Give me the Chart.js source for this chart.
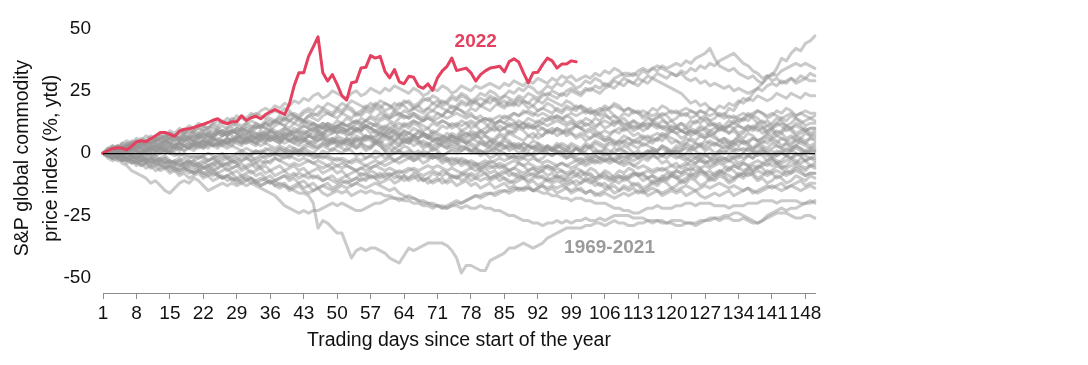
<!DOCTYPE html>
<html>
<head>
<meta charset="utf-8">
<script src="https://cdn.jsdelivr.net/npm/chart.js@4.4.0/dist/chart.umd.min.js"></script>
<style>
  html, body { margin: 0; padding: 0; background: #fff; }
</style>
</head>
<body>
<canvas id="chart" width="1088" height="365"></canvas>
<script>
// x categories: trading day 1..150, labelled every 7 days
const days = Array.from({ length: 150 }, (_, i) => i + 1);
const xTickDays = [1, 8, 15, 22, 29, 36, 43, 50, 57, 64, 71, 78, 85, 92, 99, 106, 113, 120, 127, 134, 141, 148];
const yTicks = [-50, -25, 0, 25, 50];

// 2022 path (% ytd)
const red2022 = [0,1.0,1.8,2.2,2.0,1.4,2.8,4.5,5.0,4.6, 5.8,7.0,8.3,8.3,7.5,6.8,8.8,9.6,9.8,10.3, 11.0,11.6,12.3,13.2,13.8,12.5,11.8,12.6,12.6,15.0, 13.1,14.2,14.8,13.8,15.5,16.6,17.5,16.5,15.5,19.7, 27.0,32.2,32.2,38.7,42.6,46.6,32.2,28.9,31.5,27.6, 23.0,21.3,28.2,28.6,34.1,34.4,39.1,38.1,38.8,32.8, 30.2,33.5,28.6,27.8,30.8,30.4,26.9,26.0,27.8,25.2, 30.2,33.0,34.8,38.1,33.1,33.6,34.1,32.2,28.9,31.5, 33.0,34.1,34.4,34.8,32.6,36.7,37.8,36.5,32.2,28.2, 32.2,32.4,35.5,38.1,37.0,34.1,35.7,35.7,37.0,36.6];

// earlier years (1969-2021), estimated paths
const h01 = [0,1,0,2,1,3,2,4,3,5, 4,6,5,7,6,5,7,8,7,9, 8,10,9,8,10,11,10,12,11,10, 12,13,12,11,13,14,13,15,14,16, 15,14,16,17,15,16,18,17,16,18, 17,19,18,16,17,19,18,20,19,17, 18,20,19,21,20,18,19,21,22,20, 21,19,20,22,21,23,22,20,21,19, 20,22,21,19,18,20,19,21,20,18, 19,17,18,20,19,17,16,18,17,19, 18,16,17,15,16,18,17,15,14,16, 15,17,16,14,15,13,14,16,15,13, 14,16,15,17,16,14,15,13,14,16, 15,18,17,20,22,21,24,26,28,31, 31,34,38,37,40,42,41,44,45,47];
const h02 = [0,-1,1,0,2,1,3,2,1,3, 2,4,3,5,4,3,5,6,5,7, 6,8,7,6,8,9,8,10,9,8, 10,9,11,10,12,11,13,12,11,13, 12,14,13,15,14,13,15,16,15,17, 16,18,17,15,16,18,17,19,18,20, 19,17,18,20,21,19,20,22,21,23, 22,20,21,23,22,24,23,21,22,24, 23,25,24,22,23,25,24,26,25,27, 26,24,25,27,26,28,27,29,28,26, 27,29,28,30,29,27,28,30,31,32, 32,31,33,34,33,34,33,35,34,35, 36,35,37,36,38,39,40,42,38,35, 34,33,34,32,31,30,31,29,28,30, 32,31,33,34,35,36,35,36,35,34];
const h03 = [0,1,2,1,3,2,4,3,5,4, 6,5,7,6,8,7,9,8,10,9, 10,11,10,12,11,13,12,14,13,15, 14,16,15,17,18,17,19,18,20,19, 21,20,22,21,23,24,22,23,25,24, 23,22,24,25,23,24,26,25,24,26, 25,27,26,25,24,26,25,23,24,26, 25,27,26,24,25,27,26,25,27,26, 27,28,27,26,28,27,29,28,27,29, 28,30,29,28,30,29,31,30,31,29, 30,31,30,32,31,33,32,34,33,31, 31,32,31,33,32,34,35,34,33,32, 31,32,30,29,30,28,29,27,28,27, 26,27,25,26,25,24,25,26,25,27, 28,27,29,28,30,29,31,30,32,31];
const h04 = [0,1,0,-1,1,0,2,1,0,2, 1,3,2,1,3,2,4,3,2,4, 3,5,4,6,5,4,6,5,7,6, 5,7,6,8,7,9,8,7,9,8, 10,9,11,10,12,11,10,12,11,13, 12,14,13,12,14,13,15,14,16,15, 14,16,15,17,16,18,17,16,18,17, 19,18,17,19,18,20,19,21,20,19, 21,20,22,21,23,22,21,23,22,24, 23,22,24,23,25,24,23,25,26,25, 24,26,25,27,26,28,27,29,28,30, 29,28,30,29,31,30,32,31,30,32, 31,33,32,34,33,35,34,36,35,37, 38,39,40,38,36,35,33,32,30,31, 29,30,28,29,30,28,29,30,29,29];
const h05 = [0,-1,0,1,0,2,1,3,2,1, 3,2,4,3,5,4,3,5,6,5, 7,6,5,7,8,7,9,8,10,9, 8,10,11,10,12,11,13,14,13,15, 16,15,17,18,17,19,18,20,19,18, 20,19,21,20,19,18,20,19,21,20, 19,18,20,19,17,18,19,17,18,20, 19,21,20,18,19,21,20,19,21,22, 21,23,22,20,21,19,20,22,21,20, 22,21,23,24,23,22,24,23,25,24, 23,25,26,25,24,26,27,26,28,27, 29,28,27,29,28,30,29,28,27,26, 25,24,22,20,21,19,20,18,17,19, 18,20,19,21,20,22,21,23,22,21, 22,24,23,22,24,23,22,24,23,23];
const h06 = [0,1,2,1,0,1,2,3,2,4, 3,2,4,5,4,6,5,7,6,5, 7,8,7,6,8,7,9,8,10,9, 11,10,12,11,10,12,13,12,14,13, 15,14,13,15,16,15,17,16,15,14, 16,15,14,16,15,17,16,18,17,16, 15,17,16,14,15,16,14,13,15,14, 16,15,17,16,18,17,16,18,17,19, 18,17,19,20,19,21,20,19,21,20, 19,21,20,22,21,20,19,21,20,18, 19,17,18,16,17,19,18,20,19,17, 18,16,17,15,16,18,17,19,18,16, 17,15,16,14,15,17,16,18,17,15, 16,14,15,13,14,16,15,17,16,14, 15,17,16,18,17,15,16,17,16,16];
const h07 = [0,2,1,3,2,4,3,2,4,5, 4,6,5,4,6,7,6,5,7,6, 8,7,6,8,9,8,7,9,8,10, 9,8,10,11,10,9,11,12,11,10, 12,11,13,12,11,10,12,11,9,10, 11,9,10,12,11,13,12,11,13,14, 13,12,14,15,14,16,15,14,16,17, 16,15,17,16,18,17,15,16,14,15, 13,14,12,13,15,14,16,15,17,16, 15,17,18,17,16,18,17,19,18,17, 19,18,16,17,15,16,14,15,13,14, 12,13,11,12,14,13,15,14,12,13, 11,12,10,11,13,12,14,13,11,12, 10,11,13,12,14,13,15,14,12,13, 11,12,14,13,15,14,12,13,14,13];
const h08 = [0,1,3,2,4,3,5,4,6,5, 7,6,8,7,9,8,10,9,11,10, 12,11,10,12,13,12,14,13,15,14, 13,15,16,15,14,16,17,16,18,17, 15,14,13,11,12,10,11,9,10,8, 9,7,8,10,9,11,10,8,9,7, 8,10,9,11,10,12,11,9,10,8, 9,11,10,12,11,13,12,10,11,9, 10,12,11,13,12,14,13,11,12,10, 11,13,12,14,13,15,14,12,13,11, 12,14,13,11,12,10,11,13,12,10, 11,9,10,12,11,13,12,10,11,9, 10,12,11,13,12,14,13,11,12,10, 11,13,12,14,13,15,14,12,13,11, 12,14,13,11,12,14,13,11,12,12];
const h09 = [0,-1,1,0,-1,1,2,1,0,2, 1,3,2,1,3,2,4,3,2,4, 3,2,4,5,4,3,5,4,6,5, 4,6,5,7,6,5,7,6,8,7, 6,8,9,8,7,9,8,10,9,8, 10,9,11,10,9,11,10,12,11,10, 12,11,10,12,11,13,12,11,10,12, 11,13,12,10,11,9,10,12,11,13, 12,10,11,9,10,8,9,11,10,12, 11,9,10,8,9,7,8,10,9,11, 10,8,9,7,8,6,7,9,8,10, 9,7,8,6,7,5,6,8,7,9, 8,6,7,9,8,10,9,7,8,10, 9,11,10,8,9,11,10,12,11,9, 10,12,11,9,10,12,11,9,10,10];
const h10 = [0,1,0,2,1,0,2,3,2,1, 3,2,1,3,4,3,2,4,3,5, 4,3,5,6,5,4,6,5,7,6, 5,7,6,5,7,8,7,6,8,7, 9,8,7,9,10,9,8,10,9,11, 10,9,8,10,9,11,10,9,8,10, 9,8,7,9,8,10,9,8,7,9, 8,7,6,8,7,9,8,7,6,8, 7,6,5,7,6,8,7,6,5,7, 6,8,7,9,8,10,9,8,10,11, 10,12,11,10,12,13,12,11,13,12, 11,13,12,11,10,12,11,10,9,11, 10,9,8,10,9,8,7,9,8,10, 9,8,10,11,10,9,11,10,8,9, 10,8,9,11,10,8,9,10,8,9];
const h11 = [0,-1,-2,-1,0,-1,1,0,-1,1, 2,1,0,2,1,3,2,1,3,2, 4,3,2,4,3,5,4,3,5,4, 6,5,4,6,5,7,6,5,7,8, 7,6,8,7,9,8,7,9,8,10, 9,8,7,9,8,6,7,5,6,8, 7,5,6,4,5,7,6,8,7,5, 6,4,5,7,6,8,7,9,8,6, 7,5,6,8,7,9,8,10,9,7, 8,6,7,9,8,10,9,7,8,6, 7,5,6,8,7,5,6,4,5,7, 6,4,5,3,4,6,5,7,6,4, 5,3,4,6,5,7,6,8,7,5, 6,4,5,7,6,8,7,5,6,8, 7,9,8,6,7,5,6,8,7,7];
const h12 = [0,1,2,1,2,3,2,1,3,2, 4,3,2,4,3,2,4,5,4,3, 5,4,3,5,6,5,4,6,5,4, 6,5,4,6,7,6,5,4,6,5, 4,3,5,4,3,5,6,5,4,6, 5,4,3,5,4,6,5,4,6,7, 6,5,7,6,5,7,8,7,6,8, 7,6,5,7,6,5,4,6,5,4, 3,5,4,3,5,4,3,2,4,3, 2,4,3,2,1,3,2,1,3,2, 1,3,2,4,3,2,4,3,5,4, 3,5,4,6,5,4,6,5,7,6, 5,4,6,5,4,3,5,4,3,5, 4,3,5,6,5,4,6,5,4,6, 5,4,6,5,4,6,5,4,6,5];
const h13 = [0,1,0,-1,0,1,0,2,1,0, 2,1,3,2,1,3,4,3,2,4, 3,4,5,4,3,5,4,6,5,4, 6,5,7,6,5,7,6,8,7,6, 5,7,6,5,4,6,5,4,6,5, 4,6,5,7,6,5,7,6,8,7, 6,8,7,9,8,7,6,8,7,6, 5,7,6,5,4,6,5,4,3,5, 4,3,5,4,3,2,4,3,2,1, 3,2,1,3,2,4,3,2,4,3, 2,4,3,5,4,3,5,4,3,5, 4,3,2,4,3,2,1,3,2,1, 3,2,4,3,2,4,3,5,4,3, 5,4,3,5,4,3,2,4,3,2, 4,3,2,4,3,5,4,3,2,3];
const h14 = [0,1,2,3,2,4,3,5,4,3, 5,4,6,5,7,6,5,7,6,8, 7,6,8,7,9,8,7,9,8,10, 9,8,7,9,8,6,7,5,6,8, 7,5,6,4,5,7,6,4,5,3, 4,6,5,3,4,2,3,5,4,2, 3,5,4,6,5,3,4,2,3,1, 2,4,3,5,4,2,3,1,2,0, 1,3,2,4,3,1,2,0,1,-1, 0,2,1,3,2,0,1,-1,0,2, 1,3,2,0,1,-1,0,2,1,3, 2,0,1,-1,0,2,1,3,2,0, 1,-1,0,2,1,-1,0,-2,-1,1, 0,2,1,-1,0,2,1,3,2,0, 1,-1,0,2,1,3,2,0,1,1];
const h15 = [0,-1,0,-2,-1,0,-1,1,0,-1, 1,0,2,1,0,2,1,3,2,1, 3,2,4,3,2,4,3,5,4,3, 5,4,3,5,4,6,5,4,6,5, 4,6,5,7,6,5,7,6,5,7, 6,5,4,6,5,7,6,5,4,6, 5,4,3,5,4,6,5,4,3,5, 4,3,2,4,3,5,4,3,2,4, 3,2,1,3,2,4,3,2,1,3, 2,1,0,2,1,3,2,1,0,2, 1,0,-1,1,0,2,1,0,-1,1, 0,-1,-2,0,-1,1,0,-1,-2,0, -1,-2,-3,-1,-2,0,-1,-2,-3,-1, -2,-3,-1,-2,0,-1,-2,0,1,0, -1,1,0,-1,1,0,-1,1,0,0];
const h16 = [0,-1,-2,-1,-3,-2,-1,-3,-2,-4, -3,-2,-4,-3,-5,-4,-3,-5,-4,-3, -5,-4,-3,-2,-4,-3,-2,-4,-3,-1, -2,-1,-3,-2,-1,0,-1,1,0,-1, 1,0,2,1,0,2,3,2,1,3, 2,1,3,2,4,3,2,4,3,1, 2,0,1,3,2,0,1,-1,0,2, 1,-1,0,2,1,3,2,0,1,-1, 0,-2,-1,1,0,-2,-1,-3,-2,0, -1,-3,-2,0,-1,1,0,-2,-1,-3, -2,-4,-3,-1,-2,0,-1,-3,-2,-4, -3,-5,-4,-2,-3,-1,-2,-4,-3,-5, -4,-6,-5,-3,-4,-2,-3,-5,-4,-2, -3,-1,-2,-4,-3,-1,-2,0,-1,-3, -2,-4,-3,-1,-2,0,-1,-3,-2,-2];
const h17 = [0,1,0,-1,0,-2,-1,-2,-3,-2, -1,-3,-2,-1,-3,-4,-3,-2,-4,-3, -2,-1,-3,-2,-1,0,-2,-1,0,1, 0,-1,1,0,2,1,0,2,1,3, 2,1,3,4,3,2,4,3,5,4, 3,5,4,2,3,1,2,4,3,1, 0,2,1,-1,0,-2,-1,1,0,-2, -1,-3,-2,-4,-3,-5,-4,-6,-5,-7, -6,-8,-7,-9,-8,-7,-9,-8,-10,-9, -8,-10,-9,-11,-10,-9,-11,-10,-8,-9, -7,-8,-6,-7,-9,-8,-10,-9,-7,-8, -6,-7,-9,-8,-10,-9,-11,-10,-8,-9, -7,-8,-6,-7,-5,-6,-8,-7,-9,-8, -6,-7,-5,-6,-4,-5,-7,-6,-4,-5, -3,-4,-6,-5,-3,-4,-2,-3,-5,-4];
const h18 = [0,-1,-2,-3,-2,-4,-3,-5,-4,-6, -5,-7,-6,-5,-7,-6,-8,-7,-6,-8, -7,-6,-5,-7,-6,-4,-5,-3,-4,-6, -5,-4,-6,-5,-3,-4,-2,-3,-1,-2, 0,-1,1,0,-2,-1,1,0,2,1, 0,2,1,-1,0,-2,-1,1,0,-2, -1,-3,-2,0,-1,-3,-2,-4,-3,-1, -2,-4,-3,-5,-4,-2,-3,-5,-4,-6, -5,-3,-4,-6,-5,-7,-6,-4,-5,-7, -6,-8,-7,-5,-6,-8,-7,-9,-8,-6, -7,-9,-8,-10,-9,-7,-8,-10,-9,-11, -10,-8,-9,-11,-10,-12,-11,-9,-10,-8, -9,-11,-10,-8,-9,-7,-8,-10,-9,-7, -8,-6,-7,-9,-8,-6,-7,-5,-6,-8, -7,-5,-6,-8,-7,-5,-6,-7,-5,-6];
const h19 = [0,-1,0,-2,-1,-3,-2,-1,-3,-2, -4,-3,-2,-4,-3,-5,-4,-6,-5,-4, -6,-5,-7,-6,-8,-7,-6,-8,-7,-9, -8,-7,-9,-8,-10,-9,-11,-10,-9,-11, -10,-12,-11,-13,-12,-14,-13,-12,-14,-13, -12,-11,-13,-12,-10,-11,-9,-10,-12,-11, -10,-12,-11,-9,-10,-8,-9,-11,-10,-8, -9,-7,-8,-10,-9,-11,-10,-8,-9,-7, -8,-10,-9,-11,-10,-12,-11,-9,-10,-12, -11,-13,-12,-10,-11,-9,-10,-12,-11,-13, -12,-10,-11,-13,-12,-14,-13,-11,-12,-10, -11,-13,-12,-14,-13,-11,-12,-10,-11,-9, -10,-12,-11,-9,-10,-8,-9,-11,-10,-8, -9,-11,-10,-8,-9,-7,-8,-10,-9,-7, -8,-10,-9,-7,-8,-6,-7,-9,-8,-8];
const h20 = [0,1,0,1,-1,0,-1,-2,-1,-3, -2,-1,-3,-2,-4,-3,-2,-4,-3,-5, -4,-3,-5,-4,-3,-5,-4,-6,-5,-4, -6,-5,-4,-6,-5,-7,-6,-5,-7,-6, -5,-7,-6,-8,-7,-6,-8,-7,-6,-8, -7,-9,-8,-7,-9,-8,-10,-9,-8,-10, -9,-8,-10,-9,-11,-10,-9,-11,-10,-12, -11,-10,-12,-11,-13,-12,-11,-13,-12,-14, -13,-12,-14,-13,-12,-14,-13,-15,-14,-13, -15,-14,-13,-15,-14,-16,-15,-14,-16,-15, -14,-16,-15,-17,-16,-15,-14,-16,-15,-13, -14,-12,-13,-15,-14,-12,-13,-11,-12,-14, -13,-11,-12,-10,-11,-13,-12,-10,-11,-9, -10,-12,-11,-9,-10,-8,-9,-11,-10,-12, -11,-9,-10,-12,-11,-9,-10,-11,-9,-10];
const h21 = [0,-2,-3,-2,-4,-5,-7,-8,-9,-10, -12,-11,-13,-15,-16,-14,-12,-11,-12,-10, -11,-13,-15,-14,-13,-12,-13,-12,-13,-12, -13,-12,-13,-14,-15,-16,-17,-19,-21,-22, -23,-24,-23,-24,-23,-23,-22,-21,-20,-21, -20,-21,-22,-23,-23,-22,-21,-20,-20,-19, -18,-18,-19,-18,-17,-18,-19,-20,-20,-21, -21,-22,-22,-21,-20,-20,-19,-18,-17,-17, -16,-16,-16,-15,-15,-15,-14,-14,-14,-14, -15,-15,-16,-16,-17,-17,-18,-18,-19,-18, -18,-19,-19,-20,-20,-20,-21,-22,-22,-23, -23,-24,-24,-23,-22,-22,-21,-22,-22,-22, -21,-21,-20,-20,-21,-20,-20,-20,-21,-21, -21,-22,-21,-21,-21,-20,-20,-20,-19,-19, -19,-20,-19,-19,-19,-19,-20,-20,-19,-20];
const h22 = [0,-1,-2,-1,-3,-2,-4,-3,-5,-4, -6,-5,-7,-6,-8,-7,-9,-8,-10,-9, -8,-10,-9,-11,-10,-9,-11,-10,-12,-11, -10,-12,-11,-13,-12,-11,-13,-12,-13,-14, -15,-16,-16,-17,-20,-30,-27,-28,-30,-32, -32,-37,-42,-39,-38,-39,-38,-38,-39,-40, -42,-43,-44,-41,-38,-39,-38,-37,-36,-36, -36,-36,-37,-39,-42,-48,-45,-45,-46,-47, -47,-43,-42,-41,-40,-38,-38,-37,-36,-37, -38,-37,-36,-34,-33,-32,-31,-30,-30,-30, -30,-29,-29,-28,-28,-29,-28,-27,-28,-28, -29,-29,-28,-28,-27,-28,-27,-27,-28,-27, -27,-27,-28,-28,-29,-28,-27,-27,-26,-27, -26,-26,-27,-27,-26,-27,-28,-28,-27,-25, -24,-23,-22,-23,-22,-22,-21,-20,-20,-19];
const h23 = [0,-1,0,-2,-1,-3,-2,-4,-3,-2, -4,-3,-5,-4,-6,-5,-7,-6,-8,-7, -6,-8,-7,-9,-8,-10,-9,-8,-10,-9, -11,-10,-12,-11,-10,-12,-11,-13,-12,-14, -13,-12,-14,-13,-15,-14,-13,-14,-15,-14, -13,-14,-13,-12,-13,-14,-13,-12,-13,-14, -15,-14,-16,-17,-18,-18,-19,-19,-20,-20, -21,-21,-22,-21,-21,-22,-21,-22,-22,-21, -22,-22,-23,-23,-24,-25,-25,-26,-27,-27, -28,-28,-29,-28,-28,-27,-28,-27,-28,-27, -27,-26,-27,-27,-26,-27,-26,-25,-25,-25, -25,-26,-26,-26,-27,-27,-27,-28,-28,-28, -29,-29,-28,-28,-28,-27,-27,-26,-26,-26, -25,-25,-24,-24,-25,-26,-27,-28,-27,-26, -25,-24,-24,-24,-25,-26,-26,-25,-25,-26];
const h24 = [0,-1,-2,-1,-3,-2,-4,-3,-5,-4, -3,-5,-4,-6,-5,-7,-6,-5,-7,-8, -7,-9,-8,-7,-9,-10,-9,-11,-10,-12, -11,-10,-12,-13,-12,-11,-13,-14,-13,-15, -14,-13,-15,-16,-15,-14,-16,-17,-16,-15, -16,-15,-17,-16,-15,-16,-15,-16,-16,-17, -17,-18,-18,-19,-19,-20,-20,-21,-21,-22, -21,-22,-21,-20,-19,-20,-19,-18,-17,-18, -17,-16,-17,-16,-15,-16,-15,-14,-15,-14, -15,-14,-13,-14,-13,-14,-13,-14,-15,-14, -15,-16,-15,-16,-17,-16,-17,-18,-17,-16, -17,-16,-15,-16,-15,-14,-15,-16,-15,-14, -15,-14,-13,-14,-15,-14,-13,-14,-13,-12, -13,-14,-13,-14,-15,-14,-15,-16,-15,-14, -13,-14,-15,-14,-13,-14,-15,-14,-13,-14];
const h25 = [0,1,0,-1,-2,-1,-3,-2,-1,-3, -2,-4,-3,-2,-4,-3,-5,-4,-3,-5, -4,-6,-5,-4,-6,-5,-7,-6,-5,-7, -6,-8,-7,-6,-8,-7,-9,-8,-7,-9, -8,-10,-9,-8,-10,-9,-11,-10,-9,-11, -10,-9,-11,-10,-8,-9,-7,-8,-10,-9, -8,-10,-9,-11,-10,-9,-11,-10,-12,-11, -10,-12,-11,-9,-10,-8,-9,-11,-10,-9, -8,-10,-9,-8,-7,-9,-8,-10,-9,-8, -9,-8,-7,-9,-8,-10,-9,-11,-10,-9, -10,-11,-12,-11,-13,-12,-14,-13,-15,-14, -15,-14,-16,-15,-17,-16,-15,-17,-16,-15, -16,-15,-17,-16,-15,-17,-18,-17,-16,-17, -16,-15,-17,-16,-15,-14,-16,-15,-14,-13, -14,-13,-12,-14,-13,-12,-11,-13,-12,-12];
const h26 = [0,1,2,1,3,2,1,3,4,3, 2,4,3,5,4,3,5,6,5,4, 6,5,7,6,5,7,8,7,6,8, 7,9,8,7,9,10,9,8,10,9, 8,10,11,10,9,11,10,12,11,10, 12,11,10,9,11,10,8,9,7,8, 10,9,7,8,6,7,9,8,6,7, 5,6,8,7,5,6,4,5,7,6, 4,5,3,4,6,5,3,4,2,3, 5,4,2,3,1,2,4,3,1,2, 0,1,3,2,0,1,-1,0,2,1, -1,0,-2,-1,1,0,-2,-1,1,0, 2,1,3,2,4,3,1,2,0,1, 3,2,4,3,5,4,2,3,5,4, 6,5,3,4,2,3,5,4,3,4];
const h27 = [0,-1,-2,-1,-2,-3,-2,-1,-2,-1, 0,-1,0,1,0,1,2,1,2,3, 2,3,4,3,4,5,4,5,6,5, 4,5,4,3,4,3,2,3,2,1, 2,1,2,3,2,3,4,3,4,5, 4,5,6,5,6,7,6,7,8,7, 6,7,6,5,6,5,4,5,4,3, 4,3,2,3,2,1,2,1,0,1, 0,1,2,1,2,3,2,3,4,3, 2,3,2,1,2,1,0,1,0,-1, 0,-1,-2,-1,-2,-3,-2,-3,-4,-3, -2,-3,-2,-1,-2,-1,0,-1,0,1, 0,1,2,1,2,3,2,3,4,3, 2,3,2,1,2,1,0,1,2,1, 2,3,2,1,2,3,2,1,2,2];
const h28 = [0,1,2,1,2,3,4,3,4,5, 4,5,6,5,6,7,6,5,6,5, 4,5,4,3,4,3,2,3,2,1, 2,1,0,1,0,-1,0,-1,-2,-1, -2,-3,-2,-3,-4,-3,-4,-5,-4,-5, -6,-5,-6,-7,-6,-5,-6,-5,-4,-5, -4,-3,-4,-3,-2,-3,-2,-1,-2,-1, 0,-1,0,1,0,1,2,1,2,1, 0,1,0,-1,0,-1,-2,-1,-2,-3, -2,-3,-4,-3,-4,-5,-4,-5,-6,-5, -4,-5,-4,-3,-4,-3,-2,-3,-2,-1, -2,-1,0,-1,0,1,0,-1,0,-1, -2,-1,-2,-3,-2,-3,-4,-3,-4,-3, -2,-3,-2,-1,-2,-1,0,-1,0,-1, -2,-1,0,-1,-2,-1,0,-1,-2,-1];
const h29 = [0,0,-1,-1,-2,-2,-1,-2,-3,-3, -2,-3,-3,-4,-3,-4,-5,-4,-5,-6, -5,-6,-6,-5,-4,-5,-4,-3,-4,-3, -2,-3,-2,-1,-2,-1,0,-1,0,1, 0,1,0,-1,0,-1,-2,-1,-2,-3, -2,-3,-4,-3,-4,-5,-4,-3,-4,-3, -2,-3,-2,-1,-2,-1,0,-1,0,-1, -2,-1,-2,-3,-2,-3,-4,-3,-4,-5, -4,-5,-6,-5,-6,-7,-6,-7,-8,-7, -6,-7,-6,-5,-6,-5,-4,-5,-4,-3, -4,-3,-2,-3,-2,-3,-4,-3,-4,-5, -4,-5,-6,-5,-6,-7,-6,-7,-6,-5, -6,-5,-4,-5,-4,-3,-4,-3,-2,-3, -4,-3,-4,-5,-4,-5,-4,-3,-4,-3, -2,-3,-4,-3,-2,-3,-4,-3,-2,-3];
const h30 = [0,1,1,2,2,3,3,2,3,4, 4,5,4,5,6,5,6,7,6,7, 6,7,8,7,8,9,8,9,8,7, 8,7,6,7,6,5,6,5,4,5, 6,5,6,7,6,7,8,7,8,9, 8,9,10,9,10,11,10,9,10,9, 8,9,8,7,8,7,6,7,6,5, 6,5,6,7,6,7,8,7,8,9, 8,9,10,9,10,11,10,11,12,11, 10,11,10,9,10,9,8,9,8,7, 8,7,6,7,6,5,6,5,4,5, 6,5,6,7,6,7,8,7,8,9, 8,9,8,7,8,7,6,7,6,5, 6,5,4,5,4,5,6,5,6,7, 6,7,6,5,6,7,6,5,6,6];
const h31 = [0,2,3,2,4,5,4,6,5,7, 6,5,7,6,8,7,6,8,9,8, 7,9,8,10,9,8,7,9,8,6, 7,5,6,8,7,9,8,6,7,5, 6,4,5,7,6,8,7,5,6,4, 5,3,4,6,5,7,6,4,5,3, 4,2,3,5,4,6,5,3,4,2, 3,5,4,6,5,7,6,8,7,9, 8,10,9,11,10,12,11,13,12,14, 13,12,14,13,15,14,13,15,14,12, 13,11,12,14,13,15,14,12,13,11, 12,10,11,9,10,12,11,13,12,10, 11,9,10,8,9,11,10,12,11,9, 10,8,9,7,8,10,9,11,10,8, 9,7,8,10,9,7,8,9,7,8];
const h32 = [0,-1,-1,-2,-3,-2,-3,-4,-3,-4, -5,-4,-5,-6,-5,-6,-7,-6,-7,-8, -7,-8,-9,-8,-9,-10,-9,-10,-11,-10, -9,-10,-11,-10,-11,-12,-11,-10,-9,-10, -9,-8,-9,-10,-9,-10,-11,-10,-11,-12, -11,-12,-11,-10,-11,-10,-9,-10,-9,-8, -9,-8,-7,-8,-7,-6,-7,-6,-5,-6, -5,-6,-7,-6,-7,-8,-7,-6,-7,-6, -5,-6,-5,-4,-5,-4,-3,-4,-5,-4, -5,-6,-5,-6,-7,-6,-7,-8,-7,-8, -9,-8,-9,-10,-9,-10,-11,-10,-9,-10, -9,-8,-9,-8,-7,-8,-7,-6,-7,-8, -7,-8,-7,-6,-7,-6,-5,-6,-5,-4, -5,-6,-5,-6,-7,-6,-5,-6,-5,-4, -5,-4,-5,-6,-5,-4,-5,-6,-5,-5];
const h33 = [0,1,2,3,2,3,4,5,4,5, 6,5,6,7,8,7,8,9,8,9, 10,9,10,11,10,9,10,11,12,11, 12,11,10,11,12,13,12,13,14,13, 14,13,12,13,12,11,12,11,10,11, 12,11,12,13,12,13,14,13,14,15, 14,15,16,15,14,15,14,13,14,13, 12,13,12,11,12,11,12,13,12,13, 14,13,14,15,14,15,16,15,16,17, 16,15,16,15,14,15,14,15,16,15, 16,17,16,17,18,17,18,19,18,17, 18,17,16,17,16,15,16,15,16,17, 16,17,18,17,16,17,16,15,16,15, 14,15,14,15,16,15,16,17,16,15, 16,15,14,15,16,15,16,15,14,15];
const h34 = [0,-1,0,1,0,1,0,-1,0,1, 2,1,2,3,2,3,2,3,4,3, 4,5,4,3,4,5,6,5,6,7, 6,7,8,7,8,9,8,9,10,9, 8,9,8,9,10,9,10,11,10,11, 12,11,12,13,12,11,12,11,10,11, 10,11,12,11,12,13,12,13,14,13, 14,15,14,15,16,15,14,15,14,13, 14,13,12,13,12,11,12,11,10,11, 10,11,12,11,12,13,12,11,12,11, 10,9,10,9,8,9,8,9,10,9, 10,11,10,11,12,11,10,11,10,9, 10,9,8,9,8,9,10,9,10,11, 10,11,12,11,10,11,10,9,10,11, 10,11,12,11,10,11,10,9,10,10];
const h35 = [0,-1,-1,0,-1,-2,-1,-2,-1,0, -1,0,1,0,1,0,-1,0,-1,-2, -1,-2,-3,-2,-3,-2,-1,-2,-1,0, -1,0,1,0,1,2,1,2,1,0, 1,0,-1,0,-1,-2,-1,-2,-3,-2, -3,-4,-3,-2,-3,-2,-1,-2,-1,0, -1,0,1,0,1,0,-1,0,-1,-2, -1,-2,-3,-2,-3,-4,-3,-4,-5,-4, -3,-4,-3,-2,-3,-2,-1,-2,-1,0, -1,0,1,0,-1,0,-1,-2,-1,-2, -3,-2,-3,-4,-3,-2,-3,-2,-1,-2, -1,0,-1,0,1,0,1,2,1,0, 1,0,-1,0,-1,-2,-1,0,-1,0, 1,0,1,2,1,2,1,0,1,0, -1,0,1,0,1,2,1,0,1,1];
const h36 = [0,1,0,1,2,1,2,1,0,1, 0,1,2,1,0,-1,0,-1,-2,-1, -2,-1,0,-1,-2,-1,-2,-3,-2,-3, -2,-3,-4,-3,-4,-3,-2,-3,-4,-5, -4,-5,-4,-3,-4,-5,-6,-5,-6,-5, -4,-5,-6,-7,-6,-7,-6,-5,-6,-7, -6,-7,-8,-7,-6,-7,-8,-9,-8,-7, -8,-9,-8,-9,-10,-9,-8,-9,-10,-11, -10,-11,-10,-9,-10,-11,-12,-11,-10,-11, -10,-9,-10,-11,-12,-11,-12,-13,-12,-11, -12,-11,-10,-11,-10,-9,-10,-11,-10,-9, -10,-9,-8,-9,-10,-9,-10,-11,-10,-9, -10,-9,-8,-9,-8,-7,-8,-9,-8,-7, -8,-9,-10,-9,-8,-9,-8,-7,-8,-9, -8,-7,-8,-9,-8,-7,-8,-9,-8,-8];

const history = [h01, h02, h03, h04, h05, h06, h07, h08, h09, h10, h11, h12,
  h13, h14, h15, h16, h17, h18, h19, h20, h21, h22, h23, h24,
  h25, h26, h27, h28, h29, h30, h31, h32, h33, h34, h35, h36];

const FONT = "'Liberation Sans', Arial, sans-serif";
const RED = '#e3415f';
const GREY = 'rgba(150,150,150,0.5)';

// text labels next to the series, anchored in data units
const labelPlugin = {
  id: 'seriesLabels',
  afterDatasetsDraw(chart) {
    const { ctx, scales: { x, y } } = chart;
    ctx.save();
    ctx.font = 'bold 19px ' + FONT;
    ctx.textAlign = 'center';
    ctx.textBaseline = 'middle';
    ctx.fillStyle = RED;
    ctx.fillText('2022', x.getPixelForValue(78), y.getPixelForValue(44.5));
    ctx.fillStyle = '#9b9b9b';
    ctx.fillText('1969-2021', x.getPixelForValue(106), y.getPixelForValue(-38));
    ctx.restore();
  }
};

const datasets = [{
  label: '2022',
  data: red2022,
  borderColor: RED,
  borderWidth: 3,
  pointRadius: 0,
  order: 0
}];
history.forEach((run, i) => {
  datasets.push({
    label: 'hist' + (i + 1),
    data: run,
    borderColor: GREY,
    borderWidth: 3,
    pointRadius: 0,
    order: 1
  });
});

new Chart(document.getElementById('chart'), {
  type: 'line',
  data: { labels: days, datasets: datasets },
  options: {
    responsive: false,
    animation: false,
    events: [],
    layout: { padding: { left: 0, right: 273, top: 18, bottom: 0 } },
    plugins: { legend: { display: false }, tooltip: { enabled: false } },
    elements: { line: { tension: 0, borderJoinStyle: 'round', borderCapStyle: 'round' } },
    scales: {
      x: {
        type: 'category',
        grid: { drawOnChartArea: false, drawTicks: true, tickLength: 6, color: '#8c8c8c' },
        border: { display: true, color: '#8c8c8c', width: 1 },
        ticks: { autoSkip: false, maxRotation: 0, padding: 3, color: '#111', font: { family: FONT, size: 19 } },
        afterBuildTicks: s => { s.ticks = xTickDays.map(d => ({ value: d - 1 })); },
        afterFit: s => { s.height = 72; },
        title: {
          display: true,
          text: 'Trading days since start of the year',
          color: '#111',
          font: { family: FONT, size: 19.5 },
          padding: { top: 0, bottom: 13 }
        }
      },
      y: {
        min: -56,
        max: 52,
        grid: {
          z: 1,
          drawTicks: false,
          lineWidth: 1.2,
          color: c => (c.tick && c.tick.value === 0 ? '#000' : 'rgba(0,0,0,0)')
        },
        border: { display: false },
        ticks: { padding: 12, color: '#111', font: { family: FONT, size: 19 } },
        afterBuildTicks: s => { s.ticks = yTicks.map(v => ({ value: v })); },
        afterFit: s => { s.width = 103; },
        title: {
          display: true,
          text: ['S&P global commodity', 'price index (%, ytd)'],
          color: '#111',
          font: { family: FONT, size: 19.5, lineHeight: 1.5 },
          padding: { top: 8, bottom: 0 }
        }
      }
    }
  },
  plugins: [labelPlugin]
});
</script>
</body>
</html>
